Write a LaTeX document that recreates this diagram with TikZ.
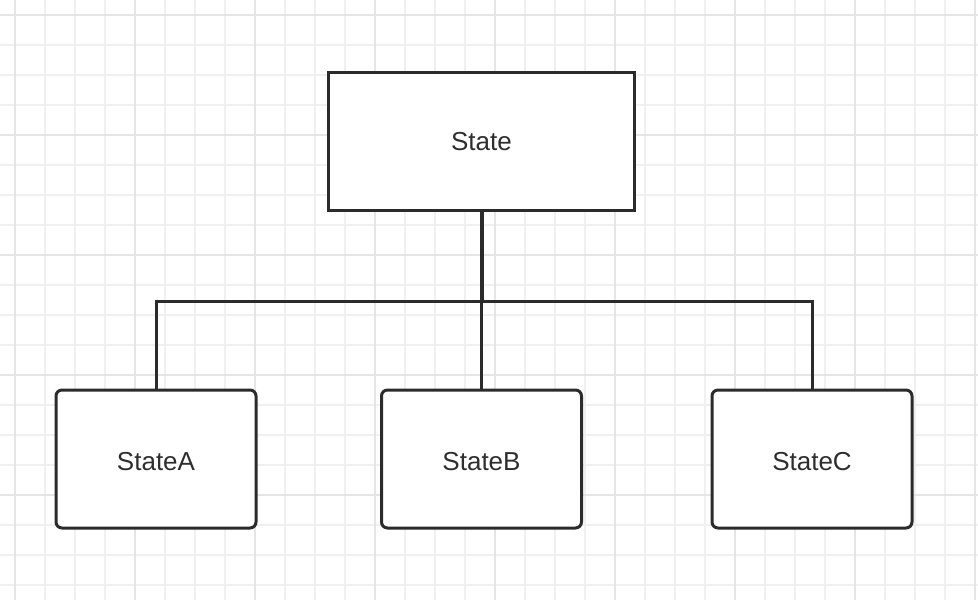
\documentclass[tikz,border=0pt]{standalone}
\usepackage{fontspec}
\setmainfont{Liberation Sans}
\begin{document}
\begin{tikzpicture}[x=1pt,y=-1pt,
  minorgrid/.style={draw=black!6,line width=1.5pt},
  majorgrid/.style={draw=black!10,line width=1.8pt},
  sbox/.style={draw=black!83,line width=3pt,fill=white,font=\fontsize{26}{31}\selectfont,text=black!82,inner sep=0pt,text depth=0pt},
  topbox/.style={sbox,text height=18pt,minimum width=306pt,minimum height=138pt},
  childbox/.style={sbox,text height=23pt,rounded corners=6pt,minimum width=200pt,minimum height=138pt},
  link/.style={draw=black!83,line width=3pt}]
\useasboundingbox (0,0) rectangle (978,600);
\fill[white] (0,0) rectangle (978,600);
\foreach \i in {15,45,...,975} \draw[minorgrid] (\i,0) -- (\i,600);
\foreach \j in {15,45,...,585} \draw[minorgrid] (0,\j) -- (978,\j);
\foreach \i in {15,135,...,975} \draw[majorgrid] (\i,0) -- (\i,600);
\foreach \j in {15,135,...,495} \draw[majorgrid] (0,\j) -- (978,\j);
\node[topbox] (S) at (481.5,141) {State};
\node[childbox] (A) at (156,459) {StateA};
\node[childbox] (B) at (481.5,459) {StateB};
\node[childbox] (C) at (812,459) {StateC};
\draw[link] (S.south) -- ++(0,90) -| (A.north);
\draw[link] (S.south) -- (B.north);
\draw[link] (S.south) -- ++(0,90) -| (C.north);
\draw[link,line width=4pt] (S.south) -- ++(0,90);
\end{tikzpicture}
\end{document}
